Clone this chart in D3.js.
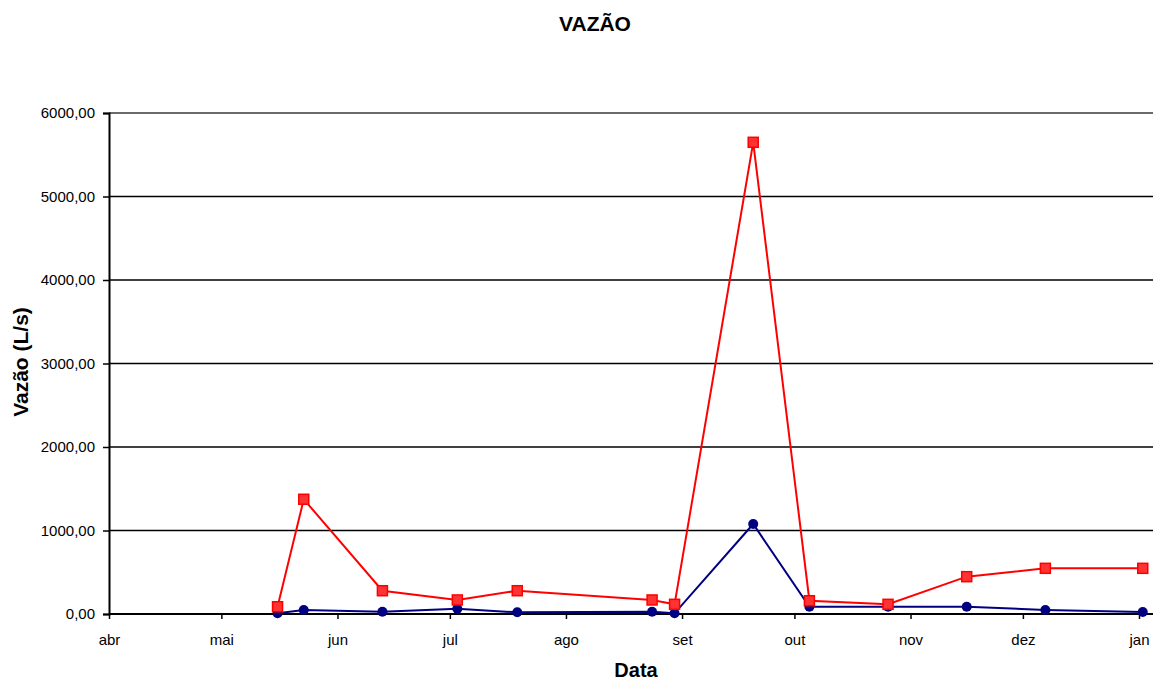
<!DOCTYPE html>
<html>
<head>
<meta charset="utf-8">
<script src="https://cdn.jsdelivr.net/npm/d3@7"></script>
<style>
  body { margin: 0; background: #fff; }
  text { font-family: "Liberation Sans", Arial, sans-serif; }
</style>
</head>
<body>
<div id="chart"></div>
<script>
// sampling dates (both series share them)
const dates = ['2007-05-16', '2007-05-23', '2007-06-13', '2007-07-03', '2007-07-19',
  '2007-08-24', '2007-08-30', '2007-09-20', '2007-10-05', '2007-10-26',
  '2007-11-16', '2007-12-07', '2008-01-02'];

// red series (squares)
const vazaoMax = [87, 1374, 279, 168, 279, 168, 116, 5649, 159, 116, 447, 547, 547];
// blue series (circles)
const vazaoMin = [8, 48, 28, 63, 20, 28, 8, 1078, 87, 87, 87, 48, 24];

const monthLabels = ['abr', 'mai', 'jun', 'jul', 'ago', 'set', 'out', 'nov', 'dez', 'jan'];
const yTicks = [0, 1000, 2000, 3000, 4000, 5000, 6000];

const width = 1153, height = 680;
const margin = {left: 109, right: 0, top: 113, bottom: 66};

const svg = d3.select('#chart').append('svg')
    .attr('width', width).attr('height', height);

const parse = d3.timeParse('%Y-%m-%d');
const dateVals = dates.map(parse);

const x = d3.scaleTime()
    .domain([new Date(2007, 3, 1), new Date(2008, 0, 1)])
    .range([109, 1139]);

const y = d3.scaleLinear()
    .domain([0, 6000])
    .range([height - margin.bottom, margin.top]);

const plotRight = width;

// horizontal gridlines
svg.append('g').selectAll('line')
    .data(yTicks.filter(d => d > 0))
    .join('line')
    .attr('x1', margin.left).attr('x2', plotRight)
    .attr('y1', d => y(d)).attr('y2', d => y(d))
    .attr('stroke', d => d === 6000 ? '#6a6a6a' : '#000')
    .attr('stroke-width', d => d === 6000 ? 2 : 1.5);

// y axis
const yAxis = svg.append('g')
    .attr('transform', `translate(${margin.left},0)`)
    .call(d3.axisLeft(y).tickValues(yTicks).tickSize(6).tickPadding(8)
      .tickFormat(d => d3.format('.2f')(d).replace('.', ',')));
yAxis.select('.domain').attr('stroke', '#000').attr('stroke-width', 2);
yAxis.selectAll('.tick line').attr('stroke', '#000').attr('stroke-width', 1.5);
yAxis.selectAll('.tick text').attr('font-size', 15).attr('fill', '#000')
    .attr('font-family', '"Liberation Sans", Arial, sans-serif');

// x axis
const xAxis = svg.append('g')
    .attr('transform', `translate(0,${y(0)})`)
    .call(d3.axisBottom(x).ticks(d3.timeMonth.every(1)).tickSize(5).tickPadding(15)
      .tickFormat((d, i) => monthLabels[i]));
xAxis.select('.domain').remove();
xAxis.append('line')
    .attr('x1', margin.left).attr('x2', plotRight)
    .attr('stroke', '#000').attr('stroke-width', 2);
xAxis.selectAll('.tick line').attr('stroke', '#000').attr('stroke-width', 1.5);
xAxis.selectAll('.tick text').attr('font-size', 15).attr('fill', '#000')
    .attr('font-family', '"Liberation Sans", Arial, sans-serif');

const line = d3.line()
    .x((d, i) => x(dateVals[i]))
    .y(d => y(d));

// blue series
svg.append('path')
    .datum(vazaoMin)
    .attr('fill', 'none')
    .attr('stroke', '#000080')
    .attr('stroke-width', 2)
    .attr('d', line);
svg.append('g').selectAll('circle')
    .data(vazaoMin)
    .join('circle')
    .attr('cx', (d, i) => x(dateVals[i]))
    .attr('cy', d => y(d))
    .attr('r', 5)
    .attr('fill', '#000080');

// red series
svg.append('path')
    .datum(vazaoMax)
    .attr('fill', 'none')
    .attr('stroke', '#ff0000')
    .attr('stroke-width', 2)
    .attr('d', line);
svg.append('g').selectAll('rect')
    .data(vazaoMax)
    .join('rect')
    .attr('x', (d, i) => x(dateVals[i]) - 5)
    .attr('y', d => y(d) - 5)
    .attr('width', 10).attr('height', 10)
    .attr('fill', '#ff3333')
    .attr('stroke', '#ff0000')
    .attr('stroke-width', 1.5);

// titles
svg.append('text')
    .attr('x', 595).attr('y', 31)
    .attr('text-anchor', 'middle')
    .attr('font-size', 21).attr('font-weight', 'bold')
    .text('VAZÃO');

svg.append('text')
    .attr('x', 636).attr('y', 677)
    .attr('text-anchor', 'middle')
    .attr('font-size', 20).attr('font-weight', 'bold')
    .text('Data');

svg.append('text')
    .attr('transform', 'translate(28,362) rotate(-90)')
    .attr('text-anchor', 'middle')
    .attr('font-size', 21).attr('font-weight', 'bold')
    .text('Vazão (L/s)');
</script>
</body>
</html>
